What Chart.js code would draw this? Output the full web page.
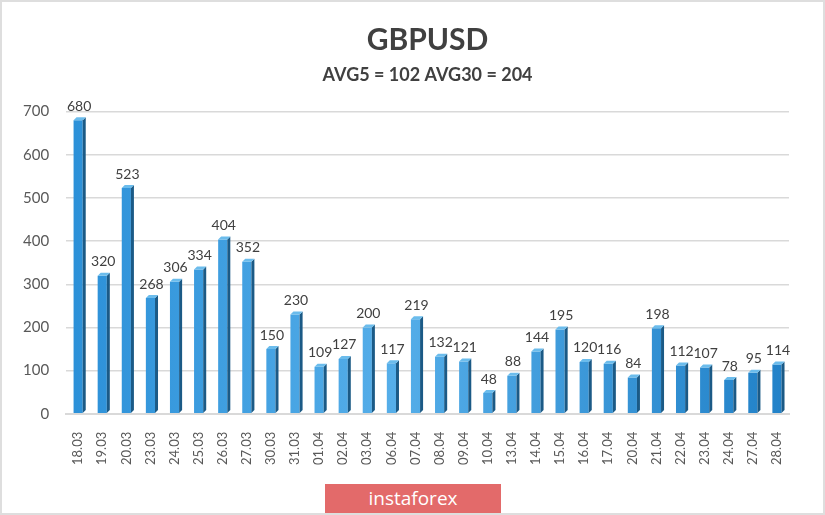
<!DOCTYPE html>
<html>
<head>
<meta charset="utf-8">
<script src="https://cdn.jsdelivr.net/npm/chart.js@4"></script>
<style>
  body { margin: 0; background: #fff; }
  #contenitore {
    position: relative;
    width: 821px;
    height: 511px;
    border: 2px solid #dedede;
    background: #fff;
  }
  #logo {
    position: absolute;
    left: 323px;
    top: 482px;
    width: 176px;
    height: 29px;
    background: #e36a6a;
    color: #fff;
    font-family: "Open Sans", sans-serif;
    font-size: 19px;
    line-height: 28px;
    text-align: center;
  }
</style>
</head>
<body>
<div id="contenitore">
  <canvas id="grafico" width="821" height="511"></canvas>
  <div id="logo">instaforex</div>
</div>
<script>
// dati
var giorni = ['18.03', '19.03', '20.03', '23.03', '24.03', '25.03', '26.03', '27.03', '30.03', '31.03',
  '01.04', '02.04', '03.04', '06.04', '07.04', '08.04', '09.04', '10.04', '13.04', '14.04',
  '15.04', '16.04', '17.04', '20.04', '21.04', '22.04', '23.04', '24.04', '27.04', '28.04'];
var volatilita = [680, 320, 523, 268, 306, 334, 404, 352, 150, 230,
  109, 127, 200, 117, 219, 132, 121, 48, 88, 144,
  195, 120, 116, 84, 198, 112, 107, 78, 95, 114];
var titolo = 'GBPUSD';
var sottotitolo = 'AVG5 = 102 AVG30 = 204';

var font_base = 'Lato, "Open Sans", sans-serif';

// faccia laterale e superiore per l'effetto 3d, poi le etichette sopra le barre
var barre3d = {
  id: 'barre3d',
  afterDatasetsDraw: function(chart) {
    var ctx = chart.ctx;
    var meta = chart.getDatasetMeta(0);
    var d = 3;
    ctx.save();
    for (var i = 0; i < meta.data.length; i++) {
      var b = meta.data[i];
      var sx = b.x - b.width / 2;
      var dx = b.x + b.width / 2;
      // lato destro
      ctx.fillStyle = '#1b5a86';
      ctx.beginPath();
      ctx.moveTo(dx, b.y);
      ctx.lineTo(dx + d, b.y - d);
      ctx.lineTo(dx + d, b.base - d);
      ctx.lineTo(dx, b.base);
      ctx.closePath();
      ctx.fill();
      // faccia sopra
      ctx.fillStyle = '#6bbcec';
      ctx.beginPath();
      ctx.moveTo(sx, b.y);
      ctx.lineTo(sx + d, b.y - d);
      ctx.lineTo(dx + d, b.y - d);
      ctx.lineTo(dx, b.y);
      ctx.closePath();
      ctx.fill();
      // valore
      ctx.fillStyle = '#404040';
      ctx.font = '14px ' + font_base;
      ctx.textAlign = 'center';
      ctx.textBaseline = 'bottom';
      ctx.fillText(volatilita[i], b.x + 1, b.y - 7);
    }
    ctx.restore();
  }
};

function sfumatura(context) {
  var chart = context.chart;
  var area = chart.chartArea;
  if (!area) {
    return '#2b8fd6';
  }
  var el = context.element;
  var x0 = el && el.width ? el.x - el.width / 2 : area.left;
  var x1 = el && el.width ? el.x + el.width / 2 : area.right;
  var g = chart.ctx.createLinearGradient(x0, 0, x1, 0);
  g.addColorStop(0, '#2b90d8');
  g.addColorStop(0.45, '#55aee9');
  g.addColorStop(1, '#2181c8');
  return g;
}

var grafico = new Chart(document.getElementById('grafico'), {
  type: 'bar',
  data: {
    labels: giorni,
    datasets: [{
      data: volatilita,
      backgroundColor: sfumatura,
      borderWidth: 0,
      categoryPercentage: 1,
      barPercentage: 0.38
    }]
  },
  options: {
    responsive: false,
    animation: false,
    layout: {
      padding: { left: 4, right: 34, top: 0, bottom: 38 }
    },
    plugins: {
      legend: { display: false },
      tooltip: { enabled: false },
      title: {
        display: true,
        fullSize: false,
        text: titolo,
        color: '#404040',
        font: { family: font_base, size: 30, weight: 'bold' },
        padding: { top: 20, bottom: 6 }
      },
      subtitle: {
        display: true,
        fullSize: false,
        text: sottotitolo,
        color: '#404040',
        font: { family: font_base, size: 18, weight: 'bold' },
        padding: { bottom: 26 }
      }
    },
    scales: {
      x: {
        grid: { display: false },
        border: { color: '#d9d9d9', width: 2 },
        ticks: {
          color: '#595959',
          font: { family: font_base, size: 13 },
          minRotation: 90,
          maxRotation: 90,
          autoSkip: false,
          padding: 10
        }
      },
      y: {
        min: 0,
        max: 700,
        grid: { color: '#d9d9d9', lineWidth: 1.5, drawTicks: false },
        border: { display: false },
        ticks: {
          stepSize: 100,
          color: '#595959',
          font: { family: font_base, size: 15 },
          padding: 17
        }
      }
    }
  },
  plugins: [barre3d]
});
</script>
</body>
</html>
